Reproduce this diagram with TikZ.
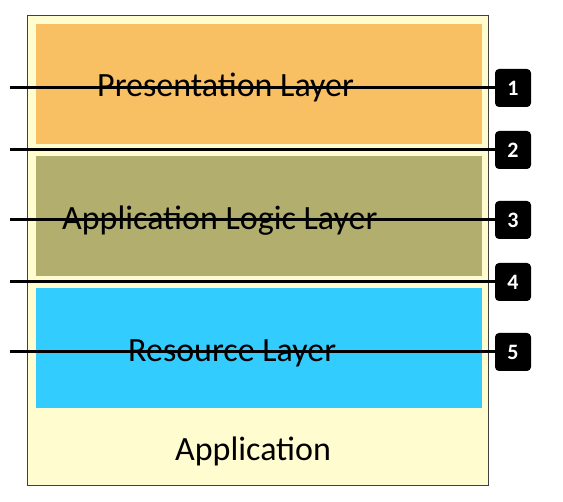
\documentclass[tikz,border=0pt]{standalone}
\usepackage{fontspec}
\setmainfont{Carlito}
\definecolor{appyellow}{HTML}{FFFCCF}
\definecolor{presorange}{HTML}{F8BF63}
\definecolor{logicolive}{HTML}{B2AE6E}
\definecolor{resblue}{HTML}{33CCFF}
\begin{document}
\begin{tikzpicture}[x=1pt,y=-1pt,
  layer/.style={draw=none,inner sep=0pt,anchor=north west},
  layertext/.style={font=\fontsize{34}{34}\selectfont,inner sep=0pt,anchor=base west},
  badge/.style={fill=black,rounded corners=4pt,minimum width=36pt,minimum height=38pt,inner sep=0pt,text=white,font=\bfseries\fontsize{22}{22}\selectfont},
  wire/.style={line width=3pt,black}]
\useasboundingbox (0,0) rectangle (563,502);
% outer application box
\node[draw=black!75,line width=1pt,fill=appyellow,minimum width=461pt,minimum height=470pt,inner sep=0pt,anchor=north west] (app) at (27,15) {};
\node[font=\fontsize{34}{34}\selectfont,inner sep=0pt,anchor=base west] (apptext) at (175,461) {Application};
% layers
\node[layer,fill=presorange,minimum width=446pt,minimum height=120pt] (pres) at (36,24) {};
\node[layer,fill=logicolive,minimum width=446pt,minimum height=120pt] (logic) at (36,156) {};
\node[layer,fill=resblue,minimum width=446pt,minimum height=120pt] (res) at (36,288) {};
\node[layertext] (prest) at (97,97) {Presentation Layer};
\node[layertext] (logict) at (62,230) {Application Logic Layer};
\node[layertext] (rest) at (128,362) {Resource Layer};
% badges
\node[badge] (b1) at (513,88) {1};
\node[badge] (b2) at (513,150) {2};
\node[badge] (b3) at (513,220) {3};
\node[badge] (b4) at (513,282) {4};
\node[badge] (b5) at (513,352) {5};
% line starts
\coordinate (s1) at (10,88);
\coordinate (s2) at (10,150);
\coordinate (s3) at (10,220);
\coordinate (s4) at (10,282);
\coordinate (s5) at (10,352);
\foreach \i in {1,...,5} {\draw[wire] (s\i) -- (b\i.west);}
\end{tikzpicture}
\end{document}
